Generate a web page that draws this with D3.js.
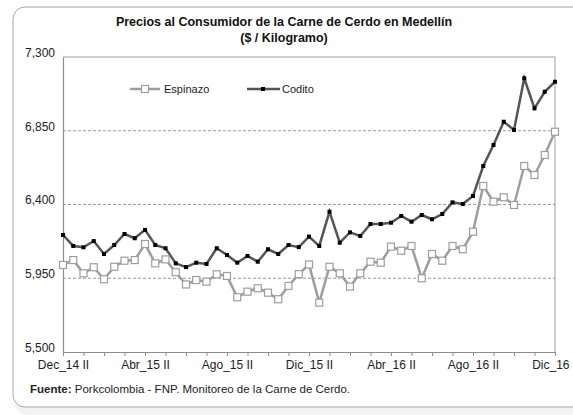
<!DOCTYPE html>
<html>
<head>
<meta charset="utf-8">
<script src="https://cdn.jsdelivr.net/npm/d3@7"></script>
<style>
  body { margin: 0; background: #fff; }
  svg { font-family: "Liberation Sans", Arial, sans-serif; }
</style>
</head>
<body>
<div id="graphId"></div>
<script>
var categories = [
  "Dec_14 II",
  "Ene_15 I", "Ene_15 II", "Feb_15 I", "Feb_15 II", "Mar_15 I", "Mar_15 II",
  "Abr_15 I", "Abr_15 II", "May_15 I", "May_15 II", "Jun_15 I", "Jun_15 II",
  "Jul_15 I", "Jul_15 II", "Ago_15 I", "Ago_15 II", "Sep_15 I", "Sep_15 II",
  "Oct_15 I", "Oct_15 II", "Nov_15 I", "Nov_15 II", "Dic_15 I", "Dic_15 II",
  "Ene_16 I", "Ene_16 II", "Feb_16 I", "Feb_16 II", "Mar_16 I", "Mar_16 II",
  "Abr_16 I", "Abr_16 II", "May_16 I", "May_16 II", "Jun_16 I", "Jun_16 II",
  "Jul_16 I", "Jul_16 II", "Ago_16 I", "Ago_16 II", "Sep_16 I", "Sep_16 II",
  "Oct_16 I", "Oct_16 II", "Nov_16 I", "Nov_16 II", "Dic_16 I", "Dic_16"
];

var espinazo = [6031, 6061, 5980, 6017, 5944, 6020, 6057, 6061, 6159, 6041,
  6065, 5987, 5912, 5939, 5929, 5974, 5964, 5834, 5868, 5889,
  5862, 5822, 5903, 5975, 6034, 5801, 6020, 5980, 5899, 5980,
  6051, 6045, 6143, 6118, 6147, 5950, 6098, 6057, 6147, 6127,
  6234, 6513, 6417, 6444, 6397, 6635, 6580, 6702, 6844];

var codito = [6214, 6147, 6139, 6177, 6098, 6153, 6220, 6194, 6245, 6153,
  6133, 6041, 6018, 6045, 6037, 6133, 6092, 6045, 6086, 6051,
  6127, 6098, 6153, 6140, 6204, 6147, 6356, 6167, 6230, 6208,
  6281, 6281, 6289, 6330, 6295, 6336, 6310, 6342, 6413, 6403,
  6452, 6635, 6763, 6905, 6855, 7170, 6987, 7088, 7149];

var yTicks = [5500, 5950, 6400, 6850, 7300];
var xTickLabels = ["Dec_14 II", "Abr_15 II", "Ago_15 II", "Dic_15 II", "Abr_16 II", "Ago_16 II", "Dic_16"];

var wt = 573;
var ht = 415;
var margin = {top: 57, right: 18, bottom: 63, left: 63};
var width = wt - margin.left - margin.right;
var height = ht - margin.top - margin.bottom;

var svg = d3.select("#graphId").append("svg")
    .attr("width", wt)
    .attr("height", ht);

// outer frame with shadow
var defs = svg.append("defs");
var grad = defs.append("linearGradient")
    .attr("id", "shadow")
    .attr("x1", 0).attr("y1", 0).attr("x2", 0).attr("y2", 1);
grad.append("stop").attr("offset", "0%").attr("stop-color", "#909090");
grad.append("stop").attr("offset", "100%").attr("stop-color", "#f4f4f4");

svg.append("rect")
    .attr("x", 15).attr("y", 12)
    .attr("width", 580).attr("height", 403)
    .attr("rx", 12)
    .attr("fill", "url(#shadow)");
svg.append("rect")
    .attr("x", 13).attr("y", 7)
    .attr("width", 580).attr("height", 400)
    .attr("rx", 12)
    .attr("fill", "#fff")
    .attr("stroke", "#a6a6a6")
    .attr("stroke-width", 1);

// title
svg.append("text")
    .attr("x", 284).attr("y", 26)
    .attr("text-anchor", "middle")
    .style("font-weight", "bold")
    .style("font-size", "12.5px")
    .attr("fill", "#111")
    .text("Precios al Consumidor de la Carne de Cerdo en Medellín");
svg.append("text")
    .attr("x", 284).attr("y", 42)
    .attr("text-anchor", "middle")
    .style("font-weight", "bold")
    .style("font-size", "12.5px")
    .attr("fill", "#111")
    .text("($ / Kilogramo)");

var g = svg.append("g")
    .attr("transform", "translate(" + margin.left + "," + margin.top + ")");

var x = d3.scalePoint()
    .domain(categories)
    .range([0, width]);

var y = d3.scaleLinear()
    .domain([5500, 7300])
    .range([height, 0]);

// gridlines
g.selectAll(".grid")
    .data(yTicks.filter(function (d) { return d > 5500 && d < 7300; }))
    .enter().append("line")
    .attr("class", "grid")
    .attr("x1", 0).attr("x2", width)
    .attr("y1", function (d) { return y(d); })
    .attr("y2", function (d) { return y(d); })
    .attr("stroke", "#9a9a9a")
    .attr("stroke-dasharray", "3,2");

// plot frame top and right
g.append("line")
    .attr("x1", 0).attr("x2", width)
    .attr("y1", 0).attr("y2", 0)
    .attr("stroke", "#a0a0a0");
g.append("line")
    .attr("x1", width).attr("x2", width)
    .attr("y1", 0).attr("y2", height)
    .attr("stroke", "#a0a0a0");

// y axis
var yAxis = g.append("g")
    .attr("class", "axis axis--y")
    .call(d3.axisLeft(y).tickValues(yTicks).tickSize(0).tickPadding(8)
        .tickFormat(d3.format(",")));
yAxis.select(".domain").attr("stroke", "#8c8c8c").attr("stroke-width", 1.2);
yAxis.selectAll("text")
    .style("font-size", "12px")
    .attr("fill", "#222")
    .attr("dy", "-0.05em");

// x axis
var monthly = categories.filter(function (d, i) { return i % 2 === 0; });
var xAxis = g.append("g")
    .attr("class", "axis axis--x")
    .attr("transform", "translate(0," + height + ")")
    .call(d3.axisBottom(x).tickValues(monthly).tickSize(4).tickSizeOuter(0).tickPadding(4)
        .tickFormat(function (d) { return xTickLabels.indexOf(d) >= 0 ? d : ""; }));
xAxis.select(".domain").attr("stroke", "#8c8c8c").attr("stroke-width", 1.2);
xAxis.selectAll(".tick line").attr("stroke", "#8c8c8c");
xAxis.selectAll("text")
    .style("font-size", "12px")
    .attr("fill", "#222");
// last label is pushed left so it fits inside the frame
xAxis.selectAll(".tick text")
    .filter(function (d) { return d === categories[categories.length - 1]; })
    .attr("text-anchor", "end")
    .attr("x", 14);

// lines
var line = d3.line()
    .x(function (d, i) { return x(categories[i]); })
    .y(function (d) { return y(d); });

g.append("path")
    .datum(espinazo)
    .attr("fill", "none")
    .attr("stroke", "#9d9d9d")
    .attr("stroke-width", 2.5)
    .attr("d", line);

g.append("path")
    .datum(codito)
    .attr("fill", "none")
    .attr("stroke", "#555")
    .attr("stroke-width", 2.5)
    .attr("d", line);

g.selectAll(".mk-esp")
    .data(espinazo)
    .enter().append("rect")
    .attr("class", "mk-esp")
    .attr("x", function (d, i) { return x(categories[i]) - 3.5; })
    .attr("y", function (d) { return y(d) - 3.5; })
    .attr("width", 7).attr("height", 7)
    .attr("fill", "#fff")
    .attr("stroke", "#9d9d9d")
    .attr("stroke-width", 1.2);

g.selectAll(".mk-cod")
    .data(codito)
    .enter().append("rect")
    .attr("class", "mk-cod")
    .attr("x", function (d, i) { return x(categories[i]) - 2; })
    .attr("y", function (d) { return y(d) - 2; })
    .attr("width", 4).attr("height", 4)
    .attr("fill", "#000");

// legend
var legend = svg.append("g");
legend.append("line")
    .attr("x1", 130).attr("x2", 160).attr("y1", 89).attr("y2", 89)
    .attr("stroke", "#9d9d9d").attr("stroke-width", 2.5);
legend.append("rect")
    .attr("x", 141.5).attr("y", 85.5).attr("width", 7).attr("height", 7)
    .attr("fill", "#fff").attr("stroke", "#9d9d9d").attr("stroke-width", 1.2);
legend.append("text")
    .attr("x", 164).attr("y", 93)
    .style("font-size", "11px").attr("fill", "#222")
    .text("Espinazo");
legend.append("line")
    .attr("x1", 247).attr("x2", 280).attr("y1", 89).attr("y2", 89)
    .attr("stroke", "#555").attr("stroke-width", 2.5);
legend.append("rect")
    .attr("x", 261).attr("y", 87).attr("width", 4).attr("height", 4)
    .attr("fill", "#000");
legend.append("text")
    .attr("x", 282).attr("y", 93)
    .style("font-size", "11px").attr("fill", "#222")
    .text("Codito");

// source note
var src = svg.append("text")
    .attr("x", 30).attr("y", 393)
    .style("font-size", "11.5px")
    .attr("fill", "#222");
src.append("tspan").style("font-weight", "bold").text("Fuente: ");
src.append("tspan").text("Porkcolombia - FNP.  Monitoreo de la Carne de Cerdo.");
</script>
</body>
</html>
